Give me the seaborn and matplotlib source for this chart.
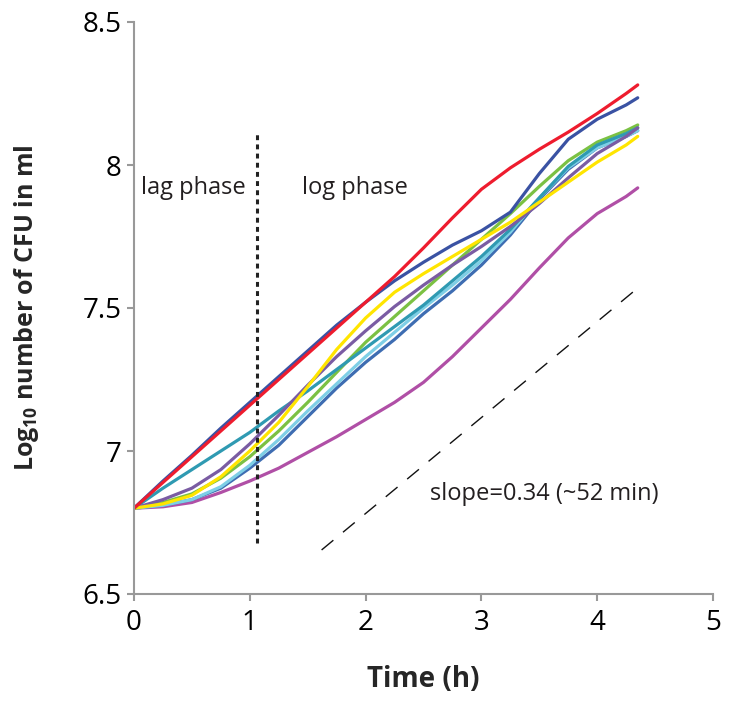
import matplotlib
matplotlib.use("Agg")
import matplotlib.pyplot as plt
import seaborn as sns
import pandas as pd

# ---------------- data ----------------
time_h = [0, 0.25, 0.5, 0.75, 1, 1.25, 1.5, 1.75, 2, 2.25, 2.5, 2.75,
          3, 3.25, 3.5, 3.75, 4, 4.25, 4.35]

magenta = [6.80, 6.805, 6.82, 6.855, 6.895, 6.94, 6.995, 7.05, 7.11, 7.17, 7.24, 7.33,
           7.43, 7.53, 7.64, 7.745, 7.83, 7.89, 7.92]
steel = [6.80, 6.81, 6.83, 6.87, 6.94, 7.02, 7.12, 7.22, 7.31, 7.39, 7.48, 7.56,
         7.65, 7.755, 7.88, 7.985, 8.06, 8.10, 8.12]
lightblue = [6.80, 6.81, 6.83, 6.875, 6.95, 7.04, 7.14, 7.235, 7.33, 7.415, 7.50, 7.58,
             7.665, 7.765, 7.885, 7.99, 8.06, 8.10, 8.12]
green = [6.80, 6.82, 6.85, 6.905, 6.98, 7.07, 7.17, 7.275, 7.38, 7.47, 7.56, 7.65,
         7.74, 7.83, 7.925, 8.015, 8.08, 8.12, 8.14]
teal = [6.80, 6.87, 6.935, 7.00, 7.065, 7.14, 7.21, 7.285, 7.36, 7.435, 7.51, 7.595,
        7.68, 7.775, 7.885, 7.995, 8.07, 8.11, 8.13]
purple = [6.80, 6.83, 6.87, 6.935, 7.025, 7.125, 7.23, 7.33, 7.42, 7.505, 7.58, 7.65,
          7.715, 7.785, 7.865, 7.955, 8.04, 8.10, 8.13]
yellow = [6.80, 6.815, 6.845, 6.91, 7.00, 7.10, 7.225, 7.355, 7.465, 7.555, 7.62, 7.68,
          7.74, 7.80, 7.87, 7.94, 8.01, 8.07, 8.10]
navy = [6.80, 6.895, 6.985, 7.08, 7.17, 7.26, 7.35, 7.44, 7.52, 7.595, 7.66, 7.72,
        7.77, 7.835, 7.97, 8.09, 8.16, 8.21, 8.235]
red = [6.80, 6.89, 6.98, 7.07, 7.16, 7.25, 7.34, 7.43, 7.52, 7.61, 7.71, 7.815,
       7.915, 7.99, 8.055, 8.115, 8.18, 8.25, 8.28]

series = {
    "magenta": magenta, "steel": steel, "lightblue": lightblue, "green": green,
    "teal": teal, "purple": purple, "yellow": yellow, "navy": navy, "red": red,
}
palette = {
    "magenta": "#B04FA6", "steel": "#3E6DB2", "lightblue": "#7ECFE6",
    "green": "#7BC143", "teal": "#2F9AB2", "purple": "#7A5CA3",
    "yellow": "#FFE500", "navy": "#3A52A3", "red": "#EE1C2E",
}

lag_x = [1.06, 1.06]
lag_y = [6.68, 8.12]
slope_x = [1.62, 4.33]
slope_y = [6.654, 7.563]

x_ticks = [0, 1, 2, 3, 4, 5]
y_ticks = [6.5, 7, 7.5, 8, 8.5]
y_tick_labels = ["6.5", "7", "7.5", "8", "8.5"]

# ---------------- plot ----------------
sns.set_theme(style="white")
plt.rcParams["font.family"] = ["Open Sans", "DejaVu Sans"]
plt.rcParams["mathtext.fontset"] = "custom"
plt.rcParams["mathtext.rm"] = "Open Sans"

rows = []
for name, vals in series.items():
    for t, v in zip(time_h, vals):
        rows.append({"strain": name, "time": t, "logcfu": v})
df = pd.DataFrame(rows)

fig = plt.figure(figsize=(7.32, 7.09), dpi=100)
ax = fig.add_axes([134 / 732, 115 / 709, 579 / 732, 572 / 709])

sns.lineplot(data=df, x="time", y="logcfu", hue="strain", palette=palette,
             hue_order=list(series.keys()), estimator=None, sort=False,
             linewidth=2.3, legend=False, ax=ax)

ax.plot(lag_x, lag_y, color="#222222", lw=2.2, linestyle=(0, (1.6, 1.4)))
ax.plot(slope_x, slope_y, color="#111111", lw=1.0, linestyle=(0, (11, 9)))

ax.text(0.51, 7.92, "lag phase", fontsize=17, color="#231F20", ha="center", va="center")
ax.text(1.91, 7.92, "log phase", fontsize=17, color="#231F20", ha="center", va="center")
ax.text(3.54, 6.85, "slope=0.34 (~52 min)", fontsize=17, color="#231F20",
        ha="center", va="center")

ax.set_xlim(0, 5)
ax.set_ylim(6.5, 8.5)
ax.set_xticks(x_ticks)
ax.set_yticks(y_ticks)
ax.set_yticklabels(y_tick_labels)
ax.tick_params(axis="both", labelsize=20, colors="#999999", labelcolor="black",
               length=5, width=1.5, direction="out", bottom=True, left=True)
ax.tick_params(axis="x", pad=6)
ax.tick_params(axis="y", pad=4)

for side in ["top", "right"]:
    ax.spines[side].set_visible(False)
for side in ["left", "bottom"]:
    ax.spines[side].set_color("#999999")
    ax.spines[side].set_linewidth(1.5)

ax.set_xlabel("Time (h)", fontsize=20, fontweight="bold", labelpad=20)
ax.set_ylabel(r"Log$_{\mathregular{10}}$ number of CFU in ml", fontsize=18,
              fontweight="bold", labelpad=30)

fig.savefig("out.png", dpi=100)
